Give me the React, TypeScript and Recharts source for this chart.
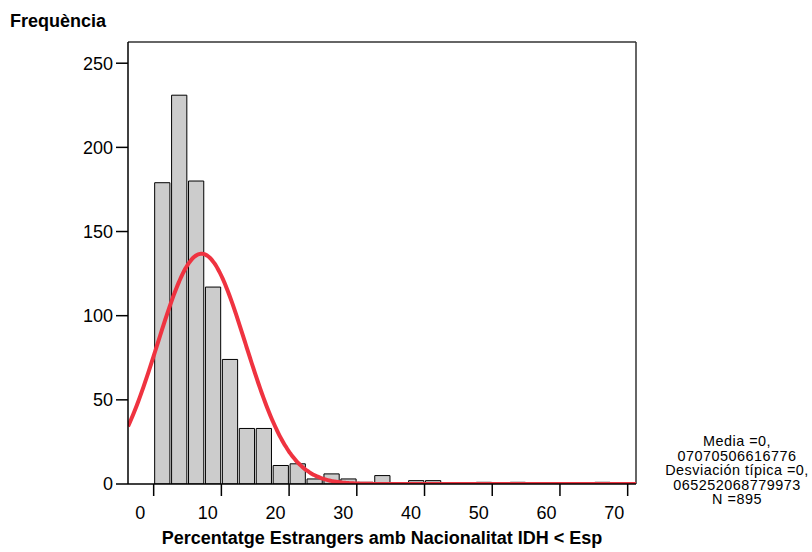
import React from "react";
import {
  ComposedChart,
  Bar,
  Line,
  XAxis,
  YAxis,
  ReferenceLine,
} from "recharts";

// Histogram bins (lower edge, in %) and their frequencies
const binLower = [
  0, 2.5, 5, 7.5, 10, 12.5, 15, 17.5, 20, 22.5, 25, 27.5, 30, 32.5, 35, 37.5,
  40, 42.5, 45, 47.5, 50, 52.5, 55, 57.5, 60, 62.5, 65,
];
const binCounts = [
  179, 231, 180, 117, 74, 33, 33, 11, 12, 3, 6, 3, 1, 5, 0, 2, 2, 0, 0, 1, 0,
  1, 0, 0, 0, 0, 1,
];
const binWidth = 2.5;

// Summary statistics shown beside the chart
const mediaText = ["Media =0,", "07070506616776"];
const desvText = ["Desviación típica =0,", "065252068779973"];
const nText = ["N =895"];
const mean = 0.07070506616776;
const stdDev = 0.065252068779973;
const total = 895;

const xTicks = [0, 10, 20, 30, 40, 50, 60, 70];
const yTicks = [0, 50, 100, 150, 200, 250];

const X_MIN = -3.79;
const X_MAX = 71.23;
const Y_MAX = 262.6;

const CHART_W = 812;
const CHART_H = 552;
const MARGIN = { top: 42, right: 176, bottom: 0, left: 0 };
const Y_AXIS_W = 128;
const X_AXIS_H = 68;
const PLOT_W = CHART_W - MARGIN.left - MARGIN.right - Y_AXIS_W;

const FONT = '"Liberation Sans", Arial, sans-serif';

// Bars: one row per non-empty bin, keyed by the bin centre
const barRows = binLower
  .map((lo, i) => ({ x: lo + binWidth / 2, count: binCounts[i] }))
  .filter((r) => r.count > 0);

// Normal curve fitted with the stated mean / deviation / N (in % units)
const mu = mean * 100;
const sigma = stdDev * 100;
const curveX: number[] = [];
for (let x = X_MIN; x < X_MAX; x += 0.25) curveX.push(x);
curveX.push(X_MAX);
const curveRows = curveX.map((x) => {
  const z = (x - mu) / sigma;
  return {
    x,
    fit:
      ((total * binWidth) / (sigma * Math.sqrt(2 * Math.PI))) *
      Math.exp(-0.5 * z * z),
  };
});

const barSize = (binWidth * PLOT_W) / (X_MAX - X_MIN);

const XTick = (props: any) => {
  const { x, y, payload } = props;
  return (
    <text
      x={x - 13.5}
      y={y + 8}
      dy="0.71em"
      textAnchor="middle"
      fontFamily={FONT}
      fontSize={18}
      fill="#000"
    >
      {payload.value}
    </text>
  );
};

const YTick = (props: any) => {
  const { x, y, payload } = props;
  return (
    <text
      x={x}
      y={y}
      dy="0.355em"
      textAnchor="end"
      fontFamily={FONT}
      fontSize={18}
      fill="#000"
    >
      {payload.value}
    </text>
  );
};

export default function App() {
  return (
    <div
      style={{
        position: "absolute",
        left: 0,
        top: 0,
        width: CHART_W,
        height: CHART_H,
        background: "#fff",
      }}
    >
      <div
        style={{
          position: "absolute",
          left: 10,
          top: 12,
          fontFamily: FONT,
          fontWeight: "bold",
          fontSize: 18,
          lineHeight: "19px",
          color: "#000",
        }}
      >
        Frequència
      </div>
      <ComposedChart width={CHART_W} height={CHART_H} data={barRows} margin={MARGIN}>
        {/* hidden axes carrying the fitted curve */}
        <XAxis
          xAxisId="curve"
          type="number"
          dataKey="x"
          domain={[X_MIN, X_MAX]}
          allowDataOverflow
          hide
        />
        <YAxis
          yAxisId="curve"
          type="number"
          domain={[0, Y_MAX]}
          allowDataOverflow
          hide
        />
        <XAxis
          type="number"
          dataKey="x"
          domain={[X_MIN, X_MAX]}
          allowDataOverflow
          ticks={xTicks}
          interval={0}
          height={X_AXIS_H}
          tickSize={12}
          tick={<XTick />}
          tickLine={{ stroke: "#000", strokeWidth: 1.5 }}
          axisLine={{ stroke: "#000", strokeWidth: 1.5 }}
          label={{
            value: "Percentatge Estrangers amb Nacionalitat IDH < Esp",
            position: "insideBottom",
            offset: 8,
            style: {
              fontFamily: FONT,
              fontWeight: "bold",
              fontSize: 18,
              fill: "#000",
            },
          }}
        />
        <YAxis
          type="number"
          domain={[0, Y_MAX]}
          allowDataOverflow
          ticks={yTicks}
          interval={0}
          width={Y_AXIS_W}
          tickSize={12}
          tickMargin={3}
          tick={<YTick />}
          tickLine={{ stroke: "#000", strokeWidth: 1.5 }}
          axisLine={{ stroke: "#000", strokeWidth: 1.5 }}
        />
        {/* frame: top and right edges of the plot box */}
        <ReferenceLine y={Y_MAX} stroke="#333" strokeWidth={1.5} ifOverflow="visible" />
        <ReferenceLine x={X_MAX} stroke="#333" strokeWidth={1.5} ifOverflow="visible" />
        <Bar
          dataKey="count"
          barSize={barSize}
          fill="#cccccc"
          stroke="#000"
          strokeWidth={1}
          isAnimationActive={false}
        />
        <Line
          data={curveRows}
          xAxisId="curve"
          yAxisId="curve"
          dataKey="fit"
          type="monotone"
          stroke="#ef3340"
          strokeWidth={4}
          dot={false}
          activeDot={false}
          isAnimationActive={false}
        />
      </ComposedChart>
      <div
        style={{
          position: "absolute",
          left: 657,
          top: 434,
          width: 160,
          textAlign: "center",
          fontFamily: FONT,
          fontSize: 14.4,
          letterSpacing: "0.5px",
          lineHeight: "14.5px",
          color: "#000",
        }}
      >
        {[...mediaText, ...desvText, ...nText].map((t, i) => (
          <div key={i}>{t}</div>
        ))}
      </div>
    </div>
  );
}
